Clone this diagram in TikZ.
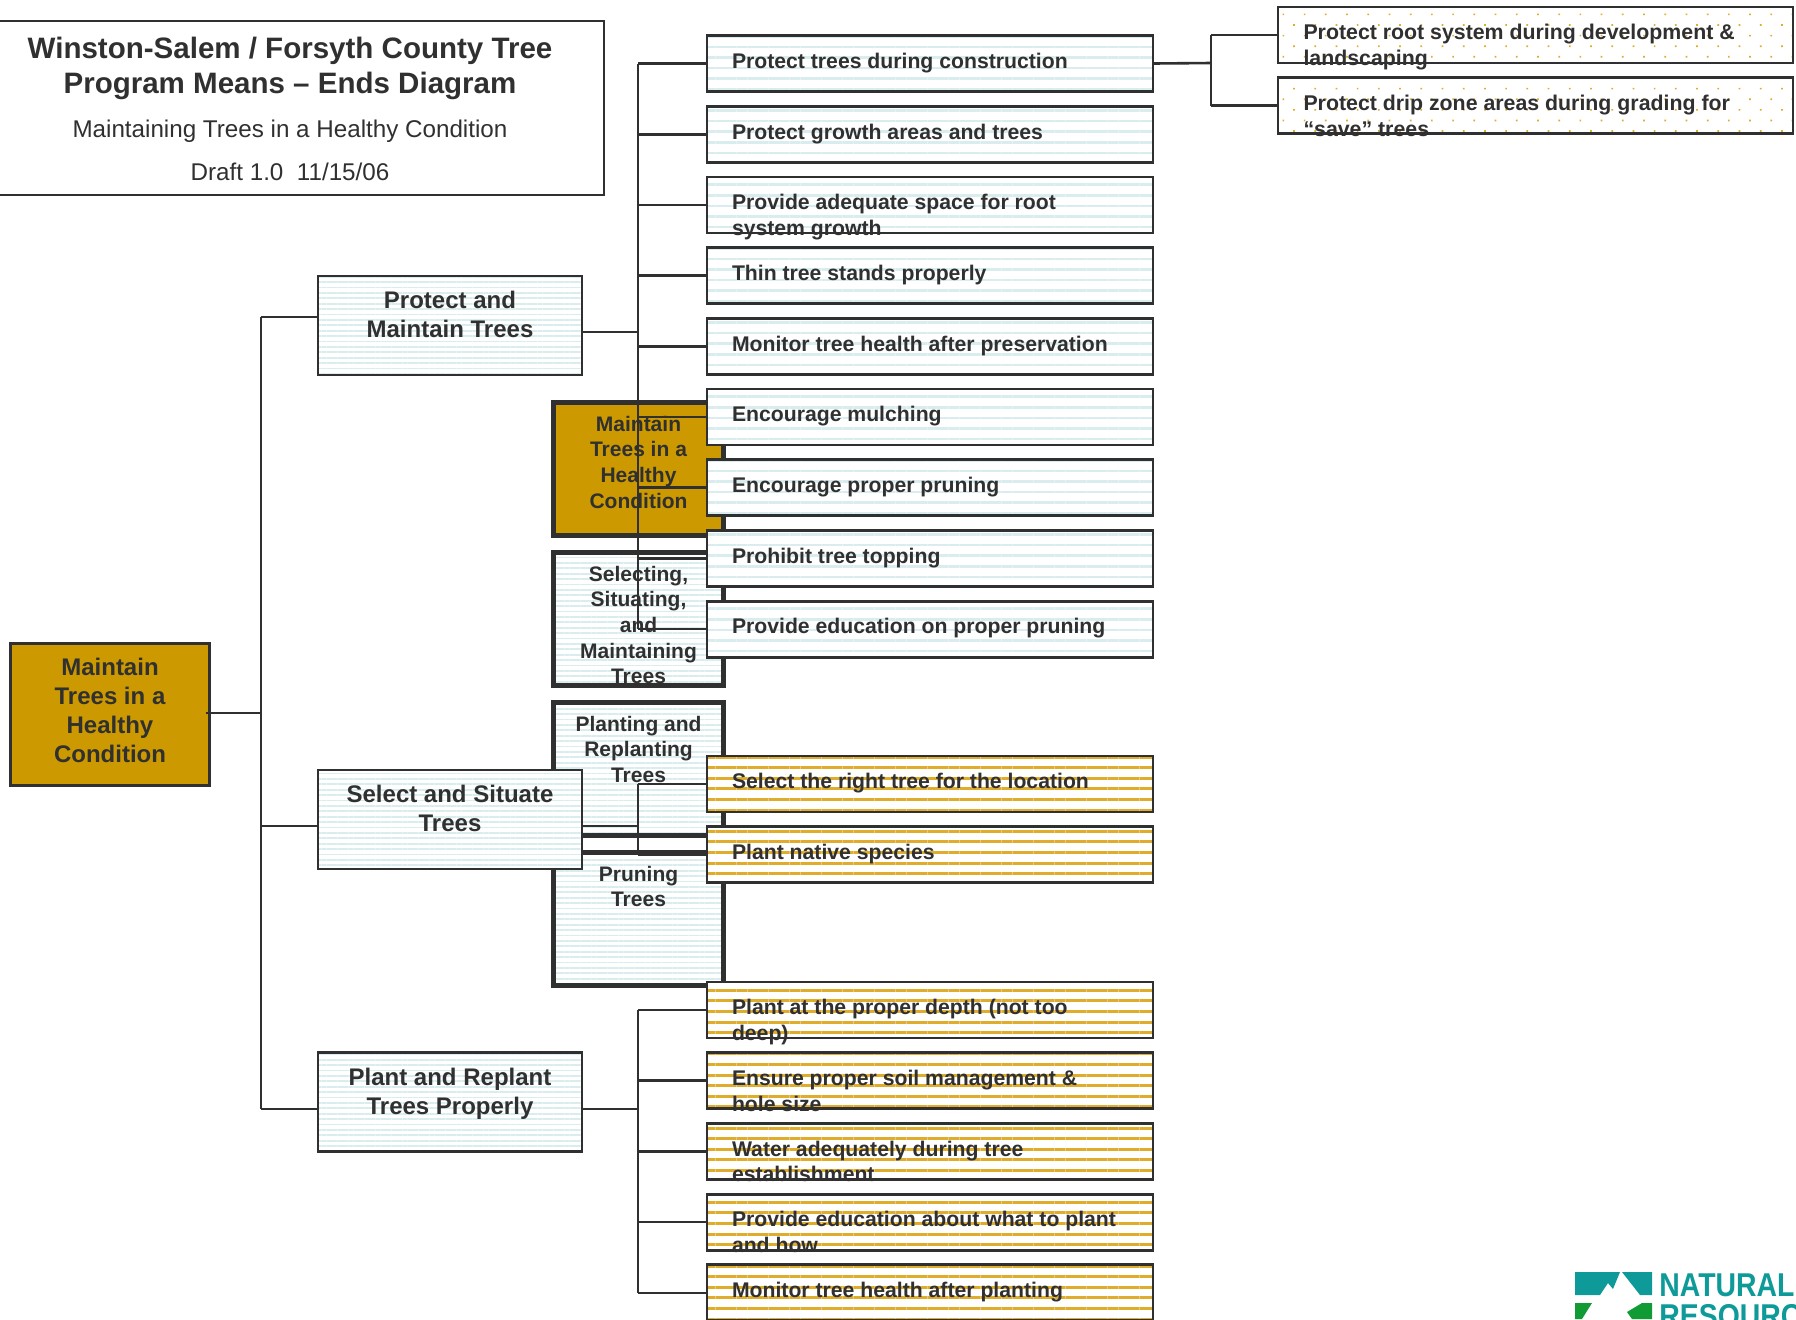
\documentclass[tikz,border=0pt]{standalone}
\usepackage{fontspec}
\setmainfont{Liberation Sans}
\newfontfamily\logofont[FakeStretch=0.86]{Liberation Sans}
\usepackage{tikz}
\usetikzlibrary{positioning, patterns.meta}
\definecolor{ink}{HTML}{303030}
\definecolor{ochre}{HTML}{CC9900}
\definecolor{mist}{HTML}{D9ECEE}
\definecolor{straw}{HTML}{E0AC2C}
\definecolor{teal}{HTML}{0E9A98}
\definecolor{leaf}{HTML}{119B35}
\newcommand{\boxtext}[3]{\smash{\raisebox{#1}{\parbox[t]{#2}{#3}}}}
\newcommand{\leaftext}[1]{\boxtext{-2.4pt}{198pt}{\raggedright\fontsize{10.6}{12.75}\selectfont\bfseries #1}}
\newcommand{\extext}[1]{\boxtext{-2.4pt}{232pt}{\raggedright\fontsize{10.66}{12.75}\selectfont\bfseries #1}}
\newcommand{\midtext}[1]{\boxtext{19pt}{74pt}{\centering\fontsize{10.5}{12.85}\selectfont\bfseries #1}}
\newcommand{\goaltext}[1]{\boxtext{8.4pt}{115pt}{\centering\fontsize{12}{14.5}\selectfont\bfseries #1}}
\newcommand{\titlelines}{\centering
    {\fontsize{14.76}{17.75}\selectfont\bfseries Winston-Salem / Forsyth County Tree\\ Program Means -- Ends Diagram\par}
    \vspace{9pt}
    {\fontsize{12.1}{13}\selectfont Maintaining Trees in a Healthy Condition\par}
    \vspace{8.3pt}
    {\fontsize{12.1}{13}\selectfont Draft 1.0\ \ 11/15/06\par}}
\tikzset{plain/.style = {draw=ink, line width=1.4pt, inner sep=0pt, outer sep=0pt, text=ink}}
\tikzset{bluefill/.style = {preaction={fill=white}, pattern={Lines[angle=0, distance=2.7pt, line width=0.9pt]}, pattern color=mist}}
\tikzset{widefill/.style = {preaction={fill=white}, pattern={Lines[angle=0, distance=5.3pt, line width=1.3pt]}, pattern color=mist}}
\tikzset{strawfill/.style = {preaction={fill=white}, pattern={Lines[angle=0, distance=5.3pt, line width=1.5pt]}, pattern color=straw}}
\tikzset{dotfill/.style = {preaction={fill=white}, pattern={Dots[angle=45, distance=7.5pt, radius=0.6pt]}, pattern color=straw}}
\tikzset{goal/.style = {plain, bluefill, minimum width=132pt, minimum height=49.5pt}}
\tikzset{mid/.style = {plain, bluefill, line width=2.5pt, minimum width=85pt, minimum height=66.5pt, node distance=8.5pt}}
\tikzset{means/.style = {plain, widefill, minimum width=223pt, minimum height=28pt}}
\tikzset{act/.style = {plain, strawfill, minimum width=223pt, minimum height=28pt}}
\tikzset{extra/.style = {plain, dotfill, minimum width=257.5pt, minimum height=28pt}}
\tikzset{link/.style = {ink, line width=1.3pt}}

\begin{document}
\begin{tikzpicture}[x=0.5pt, y=-0.5pt, node distance=7.35pt]
  \clip (0,0) rectangle (1796,1319);

  \node [plain, fill=white, minimum width=314pt, minimum height=87pt] (title) at (290,108) {\boxtext{25pt}{300pt}{\titlelines}};

  % middle column
  \node [mid, fill=ochre] (m1) at (638.5,469) {\midtext{Maintain\\ Trees in a\\ Healthy\\ Condition}};
  \node [mid, below=of m1] (m2) {\midtext{Selecting,\\ Situating,\\ and\\ Maintaining\\ Trees}};
  \node [mid, below=of m2] (m3) {\midtext{Planting and\\ Replanting\\ Trees}};
  \node [mid, below=of m3] (m4) {\midtext{Pruning\\ Trees}};

  % left column
  \node [plain, fill=ochre, minimum width=99.5pt, minimum height=71pt] (root) at (110,714.5) {\boxtext{19.3pt}{90pt}{\centering\fontsize{12}{14.5}\selectfont\bfseries Maintain\\ Trees in a\\ Healthy\\ Condition}};
  \node [goal] (protect) at (450,325.5) {\goaltext{Protect and\\ Maintain Trees}};
  \node [goal] (select) at (450,819.5) {\goaltext{Select and Situate\\ Trees}};
  \node [goal] (plant) at (450,1102) {\goaltext{Plant and Replant\\ Trees Properly}};

  % right column
  \node [means] (pt1) at (930,63.5) {\leaftext{Protect trees during construction}};
  \node [means, below=of pt1] (pt2) {\leaftext{Protect growth areas and trees}};
  \node [means, below=of pt2] (pt3) {\leaftext{Provide adequate space for root\\ system growth}};
  \node [means, below=of pt3] (pt4) {\leaftext{Thin tree stands properly}};
  \node [means, below=of pt4] (pt5) {\leaftext{Monitor tree health after preservation}};
  \node [means, below=of pt5] (pt6) {\leaftext{Encourage mulching}};
  \node [means, below=of pt6] (pt7) {\leaftext{Encourage proper pruning}};
  \node [means, below=of pt7] (pt8) {\leaftext{Prohibit tree topping}};
  \node [means, below=of pt8] (pt9) {\leaftext{Provide education on proper pruning}};

  \node [act] (st1) at (930,784) {\leaftext{Select the right tree for the location}};
  \node [act, below=of st1] (st2) {\leaftext{Plant native species}};

  \node [act] (rp1) at (930,1010) {\leaftext{Plant at the proper depth (not too\\ deep)}};
  \node [act, below=of rp1] (rp2) {\leaftext{Ensure proper soil management \&\\ hole size}};
  \node [act, below=of rp2] (rp3) {\leaftext{Water adequately during tree\\ establishment}};
  \node [act, below=of rp3] (rp4) {\leaftext{Provide education about what to plant\\ and how}};
  \node [act, below=of rp4] (rp5) {\leaftext{Monitor tree health after planting}};

  \node [extra] (ex1) at (1535.5,35) {\extext{Protect root system during development \&\\ landscaping}};
  \node [extra, below=of ex1] (ex2) {\extext{Protect drip zone areas during grading for\\ “save” trees}};

  \coordinate (trunk) at (261,713);
  \coordinate (bus) at (638,0);
  \coordinate (fork) at (1211,63);

  \draw [link] ([xshift=-2pt]root.east |- trunk) -- (trunk);
  \draw [link] (trunk |- 0,317) -- (trunk |- 0,1109);
  \draw [link] (trunk |- 0,317) -- (protect.west |- 0,317);
  \draw [link] (trunk |- 0,826) -- (select.west |- 0,826);
  \draw [link] (trunk |- 0,1109) -- (plant.west |- 0,1109);

  \draw [link] (bus |- pt1.west) -- (bus |- pt9.west);
  \draw [link] (protect.east |- 0,332) -- (bus |- 0,332);
  \draw [link] (bus |- pt1.west) -- (pt1.west);
  \draw [link] (bus |- pt2.west) -- (pt2.west);
  \draw [link] (bus |- pt3.west) -- (pt3.west);
  \draw [link] (bus |- pt4.west) -- (pt4.west);
  \draw [link] (bus |- pt5.west) -- (pt5.west);
  \draw [link] (bus |- pt6.west) -- (pt6.west);
  \draw [link] (bus |- pt7.west) -- (pt7.west);
  \draw [link] (bus |- pt8.west) -- (pt8.west);
  \draw [link] (bus |- pt9.west) -- (pt9.west);

  \draw [link] (bus |- st1.west) -- (bus |- st2.west);
  \draw [link] (select.east |- 0,826) -- (bus |- 0,826);
  \draw [link] (bus |- st1.west) -- (st1.west);
  \draw [link] (bus |- st2.west) -- (st2.west);

  \draw [link] (bus |- rp1.west) -- (bus |- rp5.west);
  \draw [link] (plant.east |- 0,1109) -- (bus |- 0,1109);
  \draw [link] (bus |- rp1.west) -- (rp1.west);
  \draw [link] (bus |- rp2.west) -- (rp2.west);
  \draw [link] (bus |- rp3.west) -- (rp3.west);
  \draw [link] (bus |- rp4.west) -- (rp4.west);
  \draw [link] (bus |- rp5.west) -- (rp5.west);

  \draw [link] (pt1.east) -- (fork);
  \draw [link] (fork |- ex1.west) -- (fork |- ex2.west);
  \draw [link] (fork |- ex1.west) -- (ex1.west);
  \draw [link] (fork |- ex2.west) -- (ex2.west);

  % logo
  \fill [teal] (1575,1272) -- (1620,1272) -- (1613,1289) -- (1608,1283) -- (1600,1295) -- (1575,1295) -- cycle;
  \fill [teal] (1622,1272) -- (1652,1272) -- (1652,1295) -- (1640,1295) -- cycle;
  \fill [leaf] (1575,1303) -- (1592,1303) -- (1582,1319) -- (1575,1319) -- cycle;
  \fill [leaf] (1627,1312) -- (1642,1303) -- (1652,1303) -- (1652,1319) -- (1632,1319) -- cycle;
  \node [anchor=north west, inner sep=0pt, text=teal, align=left, font=\logofont\bfseries\fontsize{16.5}{15.5}\selectfont] (logo) at (1659,1273) {NATURAL\\ RESOURC};
\end{tikzpicture}
\end{document}
